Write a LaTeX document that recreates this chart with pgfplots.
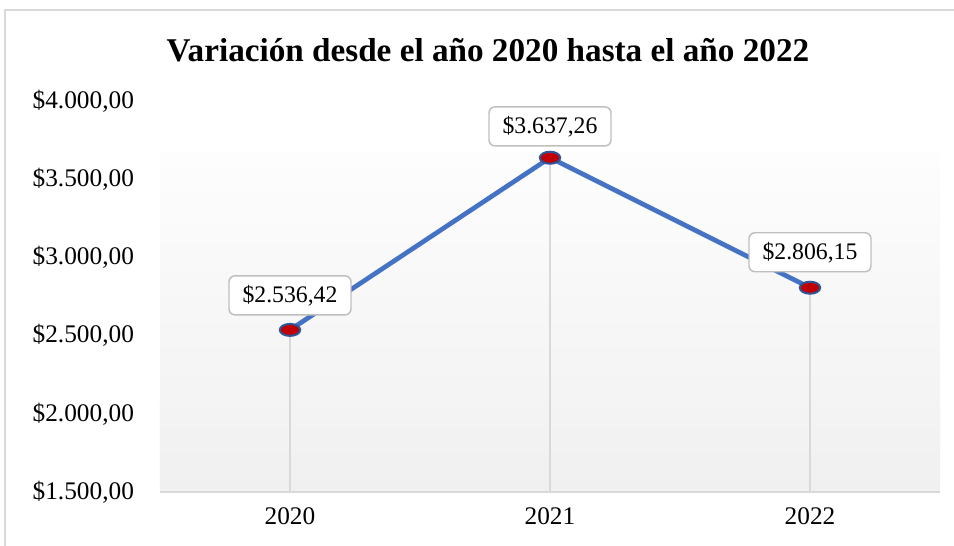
\documentclass[border=0pt]{standalone}
\usepackage{fontspec}
\setmainfont{Liberation Serif}
\usepackage{pgfplots}
\pgfplotsset{compat=1.18}
\usepackage{pgfplotstable}

\definecolor{linecol}{HTML}{4472C4}
\definecolor{markfill}{HTML}{C00000}
\definecolor{markdraw}{HTML}{2F5597}
\definecolor{framecol}{HTML}{D9D9D9}
\definecolor{dropcol}{HTML}{D9D9D9}
\definecolor{bgbot}{RGB}{240,240,240}
\definecolor{bgtop}{RGB}{253,253,253}
\pgfdeclareverticalshading{plotbg}{100bp}{color(0bp)=(bgbot); color(25bp)=(bgbot); color(68.4bp)=(bgtop); color(68.5bp)=(white); color(100bp)=(white)}

% x = position, y = value, dy = label offset (pt)
\pgfplotstableread{
x y dy
0 2536.42 25.9
1 3637.26 23.5
2 2806.15 26.6
}\ventas

\begin{document}
\begin{tikzpicture}
\useasboundingbox (-120pt,-40.5pt) rectangle (595.5pt,369pt);
\draw[framecol, line width=1.5pt] (-116.25pt,-45pt) -- (-116.25pt,361.5pt) -- (600pt,361.5pt);
\begin{axis}[
  scale only axis,
  width=585pt, height=293.25pt,
  xmin=-0.5, xmax=2.5,
  ymin=1500, ymax=4000,
  xtick={0,1,2},
  xticklabels={2020,2021,2022},
  ytick={1500,2000,...,4000},
  major tick length=0pt,
  axis x line*=bottom,
  axis y line*=left,
  x axis line style={draw=framecol, line width=1.5pt, -},
  y axis line style={draw=none},
  axis background/.style={shading=plotbg},
  tick label style={font=\fontsize{19}{22}\selectfont},
  /pgf/number format/.cd, fixed, fixed zerofill, precision=2, use comma, 1000 sep={.}, assume math mode=true,
  /pgfplots/.cd,
  yticklabel={\$\pgfmathprintnumber{\tick}},
  yticklabel style={xshift=-16pt},
  xticklabel style={yshift=-8pt},
  clip=true,
]
\addplot[ycomb, draw=dropcol, line width=1.1pt, mark=none] table[x=x, y=y] {\ventas};
\addplot[
  draw=linecol, line width=3.5pt,
  mark=*, mark size=4.5pt,
  mark options={xscale=1.7, fill=markfill, draw=markdraw, line width=1.5pt},
  visualization depends on={\thisrow{dy}\as\dy},
  nodes near coords={\$\pgfmathprintnumber{\pgfplotspointmeta}},
  every node near coord/.append style={
    anchor=center, yshift=\dy pt,
    draw=gray!50, line width=1.1pt, fill=white, rounded corners=4.5pt,
    minimum width=91.5pt, minimum height=29.25pt,
    font=\fontsize{17.8}{20}\selectfont},
] table[x=x, y=y] {\ventas};
\end{axis}
\node[anchor=base, font=\bfseries\fontsize{24.9}{28}\selectfont] at (246pt,322.5pt) {Variación desde el año 2020 hasta el año 2022};
\end{tikzpicture}
\end{document}
